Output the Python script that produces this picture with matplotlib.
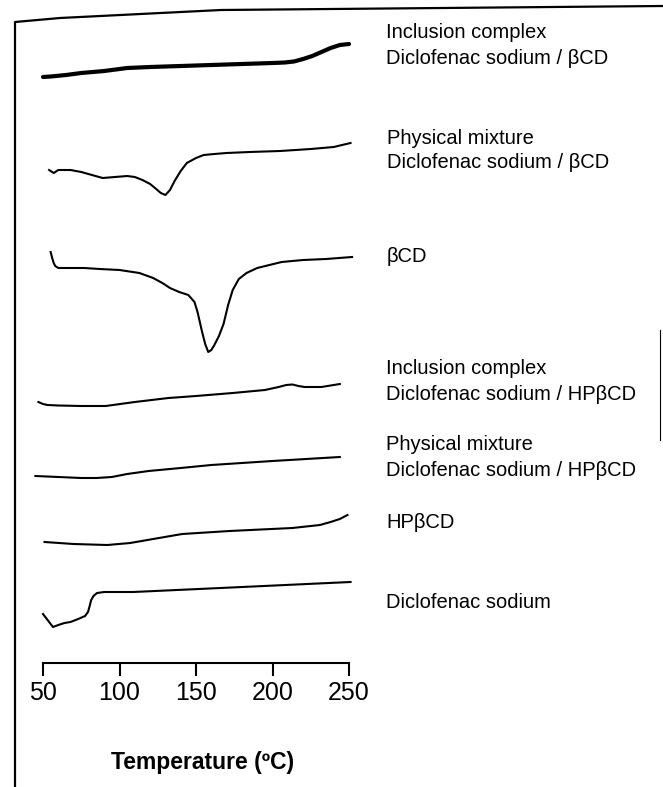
import matplotlib.pyplot as plt

plt.rcParams['font.family'] = ['Liberation Sans', 'DejaVu Sans']

W, H = 663, 787

# DSC curves: temperature [°C] and signal (arbitrary units, downward = endotherm)
t_ic_bcd = [50, 55, 65, 75, 90, 105, 120, 140, 160, 180, 200, 208, 214, 220, 226, 232, 238, 244, 250]
s_ic_bcd = [77, 76.5, 75, 73, 71, 68, 67, 66, 65, 64, 63, 62.5, 61.5, 59, 56, 52, 48, 45, 44]

t_pm_bcd = [54, 57, 59, 60, 64, 68, 75, 82, 89, 97, 105, 110, 115, 120, 124, 127, 130, 133, 136,
            140, 144, 150, 155, 162, 170, 185, 205, 225, 240, 251]
s_pm_bcd = [170, 173, 171, 170, 170, 170, 172, 175, 178, 177, 176, 177, 180, 184, 189, 193, 195, 190, 181,
            171, 163, 158, 155, 154, 153, 152, 151, 149, 147, 143]

t_bcd = [55, 56, 57, 58, 60, 65, 77, 87, 100, 113, 122, 128, 133, 139, 145, 149, 151, 154, 156, 158,
         160, 162, 165, 168, 171, 174, 178, 183, 190, 198, 206, 220, 235, 252]
s_bcd = [252, 258, 263, 266, 268, 268, 268, 269, 270, 273, 278, 283, 288, 292, 295, 302, 312, 332, 344, 352,
         350, 345, 336, 324, 305, 290, 279, 273, 268, 265, 262, 260, 259, 257]

t_ic_hp = [47, 50, 53, 60, 75, 91, 110, 132, 150, 174, 195, 204, 209, 213, 217, 221, 232, 244]
s_ic_hp = [402, 404, 405, 405.5, 406, 406, 402, 398, 396, 393, 390, 387, 385, 384.5, 386, 387, 387, 384]

t_pm_hp = [45, 60, 75, 85, 95, 105, 119, 140, 160, 200, 244]
s_pm_hp = [476, 477, 478, 478, 477, 474, 471, 468, 465, 461, 457]

t_hp = [51, 70, 92, 107, 122, 141, 172, 213, 231, 238, 244, 249]
s_hp = [542, 544, 545, 543, 539, 534, 531, 528, 525, 522, 519, 515]

t_ds = [50, 53, 56.5, 60, 64, 68, 73, 77.5, 79.4, 80.5, 81.5, 83, 85.3, 90, 109, 166, 251]
s_ds = [614, 620, 627, 625, 623, 622, 619, 616, 612, 606, 600, 596, 593, 592, 592, 588, 582]

labels = [
    ("Inclusion complex", 386, 32), ("Diclofenac sodium / βCD", 386, 58),
    ("Physical mixture", 387, 138), ("Diclofenac sodium / βCD", 387, 162),
    ("βCD", 387, 257),
    ("Inclusion complex", 386, 369), ("Diclofenac sodium / HPβCD", 386, 395),
    ("Physical mixture", 386, 444), ("Diclofenac sodium / HPβCD", 386, 470),
    ("HPβCD", 386, 523),
    ("Diclofenac sodium", 386, 602),
]
ticks = [50, 100, 150, 200, 250]

fig = plt.figure(figsize=(W / 100, H / 100), dpi=100)

# scanned page frame
frame = fig.add_axes([0, 0, 1, 1])
frame.set_xlim(0, W)
frame.set_ylim(H, 0)
frame.axis('off')
frame.plot([15, 15, 60, 221, 663], [787, 22, 18, 10, 6], color='black', lw=1.6)
frame.plot([660, 660], [330, 440], color='black', lw=0.8)
for text, x, y in labels:
    frame.text(x, y, text, fontsize=14.5, ha='left', va='center')
frame.text(203, 762, "Temperature (ºC)", fontsize=16.5, fontweight='bold', ha='center', va='center')

# curves, x in °C
ax = fig.add_axes([0, 0, 1, 1])
ax.patch.set_alpha(0)
ax.set_xlim(50 - 43 * 200 / 306, 50 + (W - 43) * 200 / 306)
ax.set_ylim(H, 0)
ax.axis('off')
ax.plot(t_ic_bcd, s_ic_bcd, color='black', lw=3.0, solid_capstyle='round')
for t, s in [(t_pm_bcd, s_pm_bcd), (t_bcd, s_bcd), (t_ic_hp, s_ic_hp),
             (t_pm_hp, s_pm_hp), (t_hp, s_hp), (t_ds, s_ds)]:
    ax.plot(t, s, color='black', lw=1.5)

# temperature axis
tax = fig.add_axes([43 / W, 1 - 663 / H, 306 / W, 0.0001])
tax.patch.set_alpha(0)
tax.set_xlim(50, 250)
tax.set_xticks(ticks)
tax.set_yticks([])
for side in ['top', 'left', 'right']:
    tax.spines[side].set_visible(False)
tax.spines['bottom'].set_linewidth(1.5)
tax.tick_params(axis='x', direction='out', length=9, width=1.5, labelsize=18, pad=4)

fig.savefig('out.png', dpi=100)
